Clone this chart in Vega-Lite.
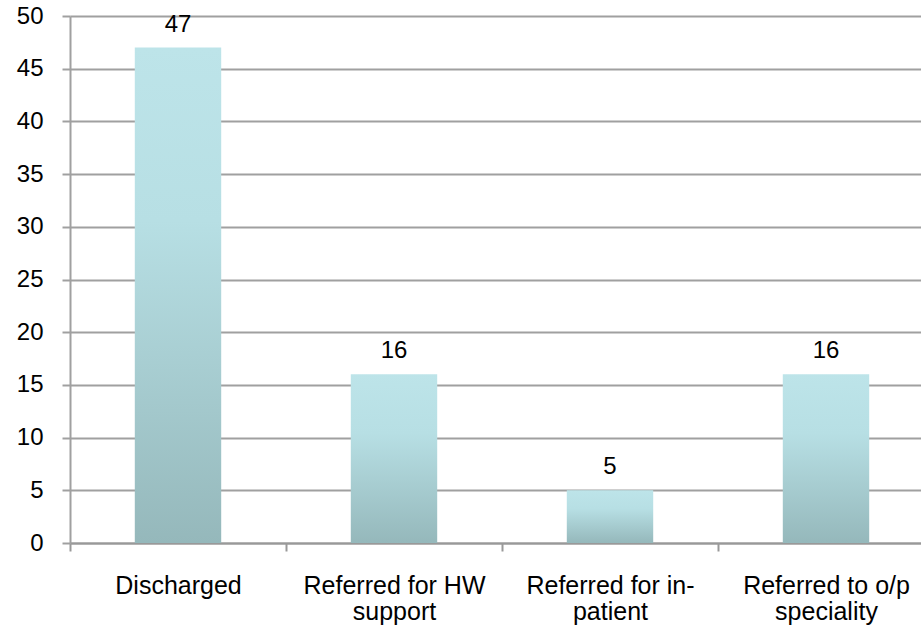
{
  "$schema": "https://vega.github.io/schema/vega-lite/v6.json",
  "width": 864,
  "height": 527,
  "autosize": "none",
  "padding": {"left": 70, "top": 16, "right": 0, "bottom": 92},
  "background": "white",
  "config": {"view": {"stroke": null}, "font": "Liberation Sans"},
  "data": {
    "values": [
      {"category": "Discharged", "count": 47},
      {"category": "Referred for HW support", "count": 16},
      {"category": "Referred for in-patient", "count": 5},
      {"category": "Referred to o/p speciality", "count": 16}
    ]
  },
  "encoding": {
    "x": {
      "field": "category",
      "type": "nominal",
      "sort": null,
      "scale": {"paddingInner": 0, "paddingOuter": 0},
      "axis": {
        "title": null,
        "labelAngle": 0,
        "labelFont": "Liberation Sans",
        "labelFontSize": 25,
        "labelColor": "#000000",
        "labelPadding": 22,
        "labelLineHeight": 26,
        "labelLimit": 300,
        "tickBand": "extent",
        "tickSize": 8,
        "tickColor": "#999999",
        "tickWidth": 2,
        "domainColor": "#999999",
        "domainWidth": 2,
        "labelExpr": "datum.value == 'Referred for HW support' ? ['Referred for HW', 'support'] : datum.value == 'Referred for in-patient' ? ['Referred for in-', 'patient'] : datum.value == 'Referred to o/p speciality' ? ['Referred to o/p', 'speciality'] : datum.value"
      }
    },
    "y": {
      "field": "count",
      "type": "quantitative",
      "scale": {"domain": [0, 50], "nice": false},
      "axis": {
        "title": null,
        "values": [0, 5, 10, 15, 20, 25, 30, 35, 40, 45, 50],
        "labelFont": "Liberation Sans",
        "labelFontSize": 24,
        "labelColor": "#000000",
        "labelPadding": 19,
        "tickSize": 8,
        "tickColor": "#a0a0a0",
        "tickWidth": 2,
        "gridColor": "#a0a0a0",
        "gridWidth": 2,
        "domainColor": "#a0a0a0",
        "domainWidth": 2
      }
    }
  },
  "layer": [
    {
      "mark": {
        "type": "bar",
        "width": {"band": 0.4},
        "color": {
          "gradient": "linear",
          "x1": 0, "y1": 0, "x2": 0, "y2": 1,
          "stops": [
            {"offset": 0, "color": "#bde4e9"},
            {"offset": 0.35, "color": "#b7dfe4"},
            {"offset": 1, "color": "#95b8bb"}
          ]
        }
      }
    },
    {
      "mark": {
        "type": "text",
        "font": "Liberation Sans",
        "fontSize": 24,
        "color": "#000000",
        "baseline": "alphabetic",
        "dy": -16
      },
      "encoding": {"text": {"field": "count", "type": "quantitative"}}
    }
  ]
}
